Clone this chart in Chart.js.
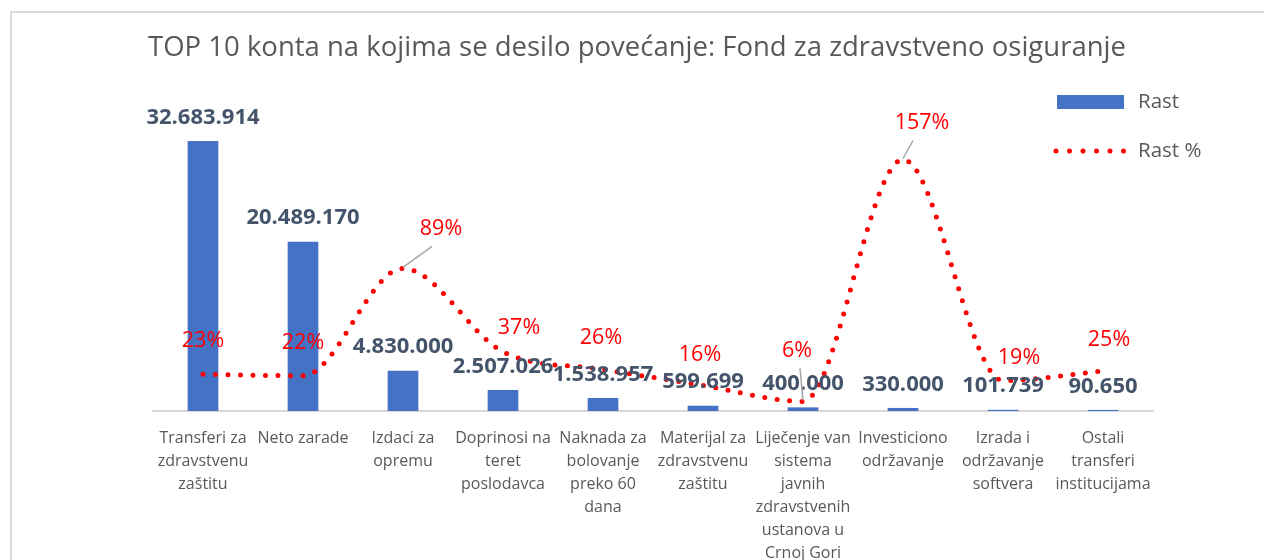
<!DOCTYPE html>
<html>
<head>
<meta charset="utf-8">
<script src="https://cdn.jsdelivr.net/npm/chart.js@4/dist/chart.umd.min.js"></script>
<style>
  html, body { margin: 0; padding: 0; background: #ffffff; }
  #wrap { position: relative; width: 1264px; height: 560px; }
</style>
</head>
<body>
<div id="wrap"><canvas id="chart" width="1264" height="560"></canvas></div>
<script>
// categories (multi-line as in the original)
const categories = [
    ['Transferi za', 'zdravstvenu', 'zaštitu'],
    ['Neto zarade'],
    ['Izdaci za', 'opremu'],
    ['Doprinosi na', 'teret', 'poslodavca'],
    ['Naknada za', 'bolovanje', 'preko 60', 'dana'],
    ['Materijal za', 'zdravstvenu', 'zaštitu'],
    ['Liječenje van', 'sistema', 'javnih', 'zdravstvenih', 'ustanova u', 'Crnoj Gori'],
    ['Investiciono', 'održavanje'],
    ['Izrada i', 'održavanje', 'softvera'],
    ['Ostali', 'transferi', 'institucijama']
];

// series values
const rast = [32683914, 20489170, 4830000, 2507026, 1538957, 599699, 400000, 330000, 101739, 90650];
const rastPct = [23, 22, 89, 37, 26, 16, 6, 157, 19, 25];

const seriesNames = ['Rast', 'Rast %'];
const chartTitle = 'TOP 10 konta na kojima se desilo povećanje: Fond za zdravstveno osiguranje';

// label placement for the % labels (dx, dy from the point, leader line)
const pctLabelShift = [
    [0, -33, false], [0, -33, false], [38, -40, true], [16, -24, false], [-2, -31, false],
    [-3, -30, false], [-6, -51, true], [19, -37, true], [16, -23, false], [6, -31, false]
];

const FONT = '"Open Sans", "DejaVu Sans", sans-serif';
const GRAY_TEXT = '#595959';
const BLUE = '#4472C4';
const RED = '#FF0000';

/**
 * Format number with dots for thousands
 */
function formatNumber(number) {
    return number.toString().replace(/\B(?=(\d{3})+(?!\d))/g, '.');
}

// frame around the chart + title (centred on the whole chart box)
const framePlugin = {
    id: 'frame',
    beforeDraw(chart) {
        const ctx = chart.ctx;
        ctx.save();
        ctx.fillStyle = '#ffffff';
        ctx.fillRect(0, 0, chart.width, chart.height);
        ctx.strokeStyle = '#d9d9d9';
        ctx.lineWidth = 2;
        ctx.beginPath();
        ctx.moveTo(11, chart.height + 5);
        ctx.lineTo(11, 12);
        ctx.lineTo(chart.width + 5, 12);
        ctx.stroke();

        ctx.font = '27.5px ' + FONT;
        ctx.fillStyle = GRAY_TEXT;
        ctx.textAlign = 'center';
        ctx.textBaseline = 'middle';
        ctx.fillText(chartTitle, 637, 48);
        ctx.restore();
    }
};

// value labels on bars and line points
const labelPlugin = {
    id: 'valueLabels',
    afterDatasetsDraw(chart) {
        const ctx = chart.ctx;
        ctx.save();
        ctx.textAlign = 'center';
        ctx.textBaseline = 'middle';

        const bars = chart.getDatasetMeta(0).data;
        ctx.font = 'bold 22px ' + FONT;
        ctx.fillStyle = '#44546A';
        bars.forEach((bar, i) => {
            ctx.fillText(formatNumber(rast[i]), bar.x, bar.y - 24);
        });

        const pts = chart.getDatasetMeta(1).data;
        ctx.font = '21.5px ' + FONT;
        pts.forEach((pt, i) => {
            const [dx, dy, leader] = pctLabelShift[i];
            const lx = pt.x + dx;
            const ly = pt.y + dy;
            if (leader) {
                ctx.strokeStyle = '#a6a6a6';
                ctx.lineWidth = 1.5;
                ctx.beginPath();
                const sx = dx > 10 ? lx - 9 : lx + 3;
                ctx.moveTo(sx, ly + 18);
                ctx.lineTo(pt.x, pt.y - 1);
                ctx.stroke();
            }
            ctx.fillStyle = RED;
            ctx.fillText(rastPct[i] + '%', lx, ly);
        });
        ctx.restore();
    }
};

// legend drawn on top of the plot, like the original
const legendPlugin = {
    id: 'sideLegend',
    afterDraw(chart) {
        const ctx = chart.ctx;
        ctx.save();
        ctx.fillStyle = BLUE;
        ctx.fillRect(1057, 95, 67, 14);
        ctx.strokeStyle = RED;
        ctx.lineWidth = 5;
        ctx.lineCap = 'round';
        ctx.setLineDash([0, 13.5]);
        ctx.beginPath();
        ctx.moveTo(1056, 151);
        ctx.lineTo(1124, 151);
        ctx.stroke();
        ctx.setLineDash([]);
        ctx.font = '20.5px ' + FONT;
        ctx.fillStyle = GRAY_TEXT;
        ctx.textAlign = 'left';
        ctx.textBaseline = 'middle';
        ctx.fillText(seriesNames[0], 1138, 102);
        ctx.fillText(seriesNames[1], 1138, 151);
        ctx.restore();
    }
};

new Chart(document.getElementById('chart'), {
    data: {
        labels: categories,
        datasets: [
            {
                type: 'bar',
                label: seriesNames[0],
                data: rast,
                backgroundColor: BLUE,
                barThickness: 30,
                yAxisID: 'y',
                order: 2
            },
            {
                type: 'line',
                label: seriesNames[1],
                data: rastPct,
                borderColor: RED,
                borderWidth: 5,
                borderDash: [0, 12.5],
                borderCapStyle: 'round',
                cubicInterpolationMode: 'monotone',
                pointRadius: 0,
                fill: false,
                yAxisID: 'y2',
                order: 1
            }
        ]
    },
    options: {
        responsive: false,
        animation: false,
        layout: { padding: { left: 153, right: 111, top: 81, bottom: 0 } },
        plugins: {
            legend: { display: false },
            tooltip: { enabled: false },
            title: { display: false }
        },
        scales: {
            x: {
                grid: { display: false },
                border: { display: true, color: '#d9d9d9', width: 2 },
                ticks: {
                    color: GRAY_TEXT,
                    font: { family: FONT, size: 16, lineHeight: 1.4375 },
                    maxRotation: 0,
                    autoSkip: false,
                    padding: 8
                },
                afterFit(scale) { scale.height = 149; }
            },
            y: { display: false, min: 0, max: 40000000 },
            y2: { display: false, position: 'right', min: 0, max: 206 }
        }
    },
    plugins: [framePlugin, labelPlugin, legendPlugin]
});
</script>
</body>
</html>
